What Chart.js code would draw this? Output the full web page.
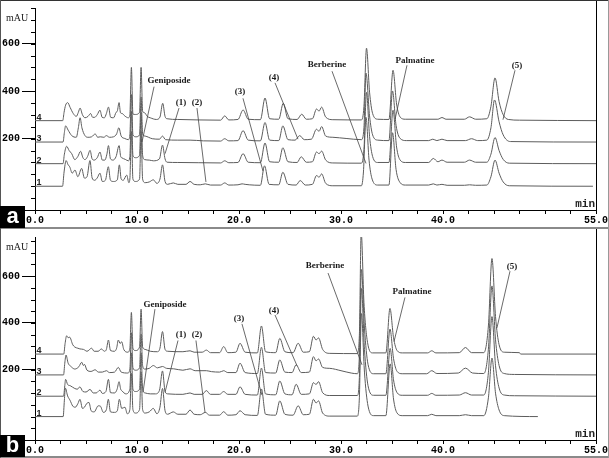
<!DOCTYPE html>
<html><head><meta charset="utf-8">
<script src="https://cdn.jsdelivr.net/npm/chart.js@4.4.0/dist/chart.umd.min.js"></script>
<style>
html,body{margin:0;padding:0;background:#fff;}
#wrap{position:relative;width:609px;height:458px;overflow:hidden;background:#fff;}
canvas{position:absolute;left:0;}
#ca{top:0;} #cb{top:229px;}
.badge{position:absolute;left:0;width:25px;height:22px;background:#000;color:#fff;font:bold 22px "Liberation Sans",Arial,sans-serif;line-height:19px;text-align:center;}
.hl{position:absolute;left:0;width:609px;background:#8a8a8a;}
.vl{position:absolute;top:0;height:458px;background:#555;}
</style></head>
<body><div id="wrap">
<canvas id="ca" width="609" height="228"></canvas>
<canvas id="cb" width="609" height="229"></canvas>
<div class="hl" style="top:0;height:1px;background:#333"></div>
<div class="hl" style="top:227px;height:2px"></div>
<div class="hl" style="top:456px;height:2px"></div>
<div class="vl" style="left:0;width:1px"></div>
<div class="vl" style="left:608px;width:1px;background:#999"></div>
<div class="badge" style="top:206px">a</div>
<div class="badge" style="top:435px">b</div>
</div>
<script>
// ---- axes ----
const yRangeA = [-100, 750];
const yRangeB = [-100, 767];
const yTickLabels = [-100, 200, 400, 600];
const yMinorTicks = [-100,-50,0,50,100,150,200,250,300,350,400,450,500,550,600,650,700,750];
const xTicks = [0,2.5,5,7.5,10,12.5,15,17.5,20,22.5,25,27.5,30,32.5,35,37.5,40,42.5,45,47.5,50,52.5,55];
const xTickLabels = [0, 10, 20, 30, 40, 55];
const traceNames = ['1','2','3','4'];
// baseline offsets of the stacked traces (mAU)
const offsetsA = [0, 95, 186, 276];
const offsetsB = [0, 87, 178, 267];

// ---- panel a traces: [time (min), signal above own baseline (mAU)] ----
const traceA1 = [[0,0],[2.7,0],[2.85,60],[3.05,108],[3.25,90],[3.4,82],[3.65,55],[3.92,68],[4.2,40],[4.57,75],[4.85,34],[5.1,40],[5.39,108],[5.6,35],[5.85,25],[6.1,35],[6.37,55],[6.6,20],[6.9,25],[7.19,82],[7.4,25],[7.7,20],[8.07,27],[8.27,90],[8.45,30],[8.65,25],[8.99,47],[9.2,15],[9.3,30],[9.45,230],[9.6,30],[9.85,20],[10.25,30],[10.4,230],[10.55,30],[10.8,15],[11.2,18],[11.6,27],[11.95,12],[12.25,30],[12.5,90],[12.75,20],[13.0,8],[13.56,14],[14.0,8],[14.8,8],[15.2,20],[15.6,8],[16.2,6],[16.7,10],[17.2,5],[18.2,5],[18.6,14],[19.0,5],[19.9,6],[20.3,10],[20.6,8],[21.0,6],[22.1,4],[22.5,86],[22.95,8],[23.9,6],[24.3,59],[24.8,8],[25.6,5],[26.0,24],[26.5,5],[27.2,8],[27.6,45],[27.85,38],[28.1,52],[28.5,12],[29.2,2],[32.0,2],[32.2,60],[32.45,290],[32.75,110],[33.05,30],[33.6,5],[34.7,5],[35.05,225],[35.4,70],[35.8,15],[36.3,5],[38.6,5],[39.05,10],[39.4,5],[39.9,8],[40.4,4],[42.1,4],[42.6,6],[43.2,4],[44.3,5],[44.7,40],[45.1,110],[45.5,55],[45.9,18],[46.5,2],[54.7,0]];
const traceA2 = [[0,0],[2.75,0],[2.88,40],[3.1,73],[3.35,55],[3.6,42],[3.9,17],[4.2,30],[4.47,52],[4.7,25],[4.9,17],[5.15,30],[5.4,56],[5.6,20],[5.8,15],[6.1,25],[6.37,49],[6.6,15],[6.85,15],[7.05,40],[7.2,76],[7.4,20],[7.65,15],[7.95,30],[8.24,76],[8.4,30],[8.5,25],[8.85,18],[9.15,12],[9.3,30],[9.45,220],[9.6,35],[9.85,25],[10.25,35],[10.4,215],[10.55,35],[10.75,17],[11.2,15],[11.6,12],[12.2,20],[12.5,78],[12.75,20],[12.95,6],[14,5],[16,4],[18.2,3],[18.6,12],[19,4],[19.9,5],[20.4,42],[20.9,6],[22.1,4],[22.55,87],[23,8],[23.9,6],[24.3,67],[24.8,8],[25.7,5],[26.1,29],[26.6,6],[27.2,8],[27.6,49],[27.85,42],[28.1,53],[28.5,15],[29.2,3],[32.0,2],[32.25,60],[32.5,300],[32.8,115],[33.1,30],[33.6,5],[34.7,5],[35.1,225],[35.45,70],[35.8,15],[36.3,5],[38.6,5],[39.05,22],[39.5,8],[39.9,15],[40.4,6],[42.1,6],[42.6,15],[43.2,6],[44.3,6],[44.7,40],[45.1,110],[45.5,55],[45.9,18],[46.5,2],[55,0]];
const traceA3 = [[0,0],[2.75,0],[2.88,40],[3.0,68],[3.25,50],[3.6,27],[4.05,20],[4.25,60],[4.42,102],[4.6,60],[4.9,27],[5.2,20],[5.55,22],[5.9,34],[6.15,20],[6.4,22],[6.75,20],[7.0,27],[7.3,20],[7.7,22],[8.0,34],[8.22,60],[8.45,25],[8.8,15],[9.15,10],[9.3,30],[9.45,200],[9.6,30],[9.9,22],[10.25,30],[10.4,190],[10.55,35],[10.8,25],[11.5,14],[12.2,12],[12.5,25],[12.8,10],[14,8],[15.2,8],[16.5,5],[18.2,4],[18.6,14],[19,5],[19.9,6],[20.4,48],[20.9,8],[22.1,5],[22.55,82],[23.0,8],[23.9,6],[24.3,68],[24.8,10],[25.5,8],[25.95,27],[26.4,10],[27.1,12],[27.6,54],[27.85,45],[28.1,65],[28.5,25],[29.2,20],[30.5,15],[32.0,10],[32.25,60],[32.45,290],[32.8,110],[33.1,30],[33.6,8],[34.7,6],[35.05,215],[35.4,70],[35.8,15],[36.4,6],[38.6,6],[39.0,12],[39.4,6],[39.9,12],[40.4,6],[42.2,6],[42.8,14],[43.4,6],[44.3,8],[44.7,60],[45.05,177],[45.5,85],[45.9,30],[46.6,2],[55,0]];
const traceA4 = [[0,0],[2.72,0],[2.85,35],[3.0,65],[3.2,76],[3.45,55],[3.75,30],[4.05,18],[4.25,35],[4.42,53],[4.65,25],[4.9,12],[5.2,18],[5.45,30],[5.65,14],[5.85,14],[6.1,25],[6.37,44],[6.58,14],[6.8,12],[7.0,30],[7.2,57],[7.42,14],[7.7,12],[7.95,35],[8.07,40],[8.24,76],[8.38,33],[8.55,30],[8.82,19],[9.15,12],[9.3,25],[9.45,224],[9.6,28],[9.85,26],[10.25,35],[10.4,224],[10.55,40],[10.75,33],[11.0,18],[11.3,12],[11.9,5],[12.25,15],[12.52,73],[12.75,18],[12.95,8],[14,5],[16,3],[18.2,2],[18.6,20],[19.0,3],[19.9,5],[20.4,45],[20.9,6],[22.1,4],[22.55,95],[23.0,8],[23.9,6],[24.34,73],[24.8,8],[25.7,5],[26.15,27],[26.6,6],[27.2,8],[27.6,49],[27.85,40],[28.1,57],[28.5,15],[29.2,4],[32.0,3],[32.25,60],[32.5,305],[32.8,120],[33.1,30],[33.6,6],[34.7,5],[35.1,212],[35.45,70],[35.8,15],[36.3,6],[39.5,6],[39.9,13],[40.3,6],[42.1,6],[42.6,16],[43.2,6],[44.3,8],[44.7,60],[45.1,180],[45.5,80],[45.9,25],[46.4,5],[47.5,2],[55,0]];

// ---- panel b traces ----
const traceB1 = [[0,0],[2.76,0],[2.88,70],[2.97,122],[3.2,88],[3.43,70],[3.7,45],[3.95,40],[4.2,55],[4.41,74],[4.65,35],[4.85,40],[5.07,56],[5.3,60],[5.5,25],[5.8,20],[6.2,46],[6.4,45],[6.7,18],[7.0,30],[7.19,74],[7.4,20],[7.8,18],[8.07,25],[8.27,74],[8.5,35],[8.82,40],[9.05,12],[9.3,30],[9.45,185],[9.6,30],[9.85,15],[10.25,30],[10.4,190],[10.55,30],[10.8,15],[11.2,20],[11.6,35],[11.95,12],[12.25,40],[12.5,120],[12.75,25],[13.0,10],[13.56,20],[14.0,10],[14.8,10],[15.2,28],[15.6,10],[16.2,8],[16.7,18],[17.1,6],[18.1,6],[18.5,21],[18.9,6],[19.7,8],[20.1,25],[20.6,8],[21.8,5],[22.2,118],[22.6,10],[23.6,6],[24.0,67],[24.5,10],[25.3,6],[25.8,46],[26.3,8],[26.9,10],[27.3,74],[27.55,58],[27.8,67],[28.2,15],[28.9,2],[31.6,2],[31.8,80],[32.0,440],[32.3,190],[32.65,45],[33.2,4],[34.4,4],[34.82,225],[35.15,75],[35.5,15],[36.0,4],[38.5,4],[38.9,10],[39.3,4],[41.6,4],[42.2,8],[42.8,4],[44.0,4],[44.45,80],[44.8,250],[45.15,100],[45.5,28],[46.0,4],[49.3,0]];
const traceB2 = [[0,0],[2.8,0],[2.92,45],[3.0,72],[3.2,50],[3.45,45],[3.9,33],[4.15,30],[4.4,40],[4.7,20],[5.0,18],[5.4,29],[5.7,14],[6.0,14],[6.37,26],[6.6,12],[6.95,20],[7.2,72],[7.4,15],[7.8,14],[8.05,30],[8.24,62],[8.4,30],[8.55,22],[8.9,10],[9.3,30],[9.45,185],[9.6,30],[9.85,20],[10.25,30],[10.4,185],[10.55,30],[10.8,14],[11.3,10],[11.8,10],[12.2,25],[12.5,108],[12.75,20],[13.0,10],[14.5,8],[15.2,14],[15.6,8],[16.4,8],[16.8,24],[17.2,8],[18.1,8],[18.5,20],[18.9,8],[19.7,8],[20.1,40],[20.6,8],[21.8,5],[22.2,120],[22.6,10],[23.6,6],[24.0,65],[24.5,10],[25.2,6],[25.6,51],[26.1,8],[26.9,10],[27.3,58],[27.55,50],[27.8,62],[28.2,15],[28.9,3],[31.6,3],[31.8,80],[32.0,460],[32.3,200],[32.65,45],[33.2,4],[34.4,4],[34.82,204],[35.15,70],[35.5,15],[36.0,4],[38.5,4],[38.9,12],[39.3,4],[41.6,5],[42.2,15],[42.8,5],[44.0,5],[44.45,100],[44.8,340],[45.15,130],[45.5,35],[46.0,5],[47,2],[55,0]];
const traceB3 = [[0,0],[2.8,0],[2.92,50],[3.04,85],[3.25,50],[3.5,37],[3.9,25],[4.3,35],[4.58,54],[4.75,40],[4.85,45],[5.1,20],[5.5,15],[5.9,22],[6.2,12],[6.6,12],[7.0,18],[7.3,10],[7.8,12],[8.17,32],[8.45,12],[9.1,8],[9.3,25],[9.45,180],[9.6,30],[9.85,20],[10.25,30],[10.4,175],[10.55,40],[10.75,25],[11.2,28],[11.6,40],[12.0,30],[12.5,36],[12.9,28],[13.6,26],[14.5,20],[15.2,26],[15.7,18],[16.8,18],[17.3,14],[18.1,12],[18.5,18],[18.9,10],[19.7,10],[20.1,50],[20.6,10],[21.8,6],[22.2,118],[22.6,10],[23.6,8],[24.0,64],[24.5,12],[25.2,10],[25.6,43],[26.1,10],[26.9,12],[27.3,78],[27.55,60],[27.8,68],[28.2,32],[28.9,28],[30,18],[31.0,8],[31.6,5],[31.8,80],[32.0,450],[32.3,200],[32.65,45],[33.2,5],[34.4,5],[34.8,196],[35.15,70],[35.5,15],[36.0,5],[38.4,5],[38.9,18],[39.4,6],[41.5,8],[42.2,29],[42.9,8],[44.0,6],[44.45,110],[44.8,380],[45.15,150],[45.5,40],[46.0,6],[47,2],[55,0]];
const traceB4 = [[0,0],[2.82,0],[2.95,45],[3.1,78],[3.25,70],[3.4,72],[3.7,40],[3.9,30],[4.2,25],[4.4,22],[4.75,20],[5.1,12],[5.55,25],[5.8,12],[6.2,12],[6.5,22],[6.8,12],[7.0,20],[7.2,60],[7.4,15],[7.8,12],[8.0,25],[8.17,60],[8.35,45],[8.5,53],[8.7,20],[9.1,8],[9.3,25],[9.45,178],[9.6,25],[9.85,15],[10.25,30],[10.4,192],[10.55,30],[10.8,20],[11.3,12],[12.0,10],[12.25,25],[12.5,96],[12.75,20],[13.0,12],[14.5,10],[15.2,14],[15.6,8],[16.4,8],[16.8,17],[17.2,6],[18.1,6],[18.5,32],[18.9,6],[19.7,8],[20.1,46],[20.6,8],[21.8,5],[22.2,120],[22.6,10],[23.6,6],[24.0,67],[24.5,10],[25.3,6],[25.8,46],[26.3,8],[26.9,10],[27.3,76],[27.55,60],[27.8,69],[28.2,20],[28.9,3],[31.6,2],[31.8,80],[31.98,520],[32.25,220],[32.6,50],[33.1,5],[34.4,5],[34.8,195],[35.15,70],[35.5,15],[36.0,5],[38.5,5],[38.9,14],[39.3,5],[41.6,6],[42.2,28],[42.8,6],[44.0,6],[44.45,120],[44.8,408],[45.15,160],[45.5,40],[46.0,8],[47.5,6],[47.6,0],[55,0]];

// ---- annotations: label centre [t, mAU], leader line from -> to ----
const labelsA = ['Geniposide','(1)','(2)','(3)','(4)','Berberine','Palmatine','(5)'];
const labelPosA = [[13.14,443],[14.31,350],[15.88,350],[20.1,399],[23.43,456],[28.63,513],[37.25,529],[47.25,509]];
const leaderFromA = [[11.67,419],[14.12,329],[15.88,329],[20.39,370],[23.53,435],[29.12,484],[36.47,509],[47.06,488]];
const leaderToA = [[10.49,186],[12.75,137],[16.76,18],[22.35,64],[25.78,198],[32.45,96],[35.29,280],[45.88,280]];
const labelsB = labelsA;
const labelPosB = [[12.75,479],[14.31,350],[15.88,350],[20.0,417],[23.43,454],[28.43,646],[36.96,534],[46.76,642]];
const leaderFromB = [[11.76,459],[14.02,325],[15.78,325],[20.29,396],[23.53,434],[28.73,613],[36.27,509],[46.57,621]];
const leaderToB = [[10.59,104],[12.75,104],[16.67,17],[22.25,92],[25.69,217],[32.06,221],[35.2,321],[45.29,379]];

const MONO = '"Liberation Mono", "Courier New", monospace';
const SERIF = '"Liberation Serif", "Times New Roman", serif';

function decoPlugin(offsets, labels, pos, from, to) {
  return {
    id: 'deco',
    afterDraw(chart) {
      const {ctx, chartArea: ca, scales: {x, y}} = chart;
      ctx.save();
      ctx.strokeStyle = '#000'; ctx.lineWidth = 1;
      // right frame of plot
      ctx.beginPath();
      ctx.moveTo(Math.round(ca.right) + 0.5, 0);
      ctx.lineTo(Math.round(ca.right) + 0.5, ca.bottom);
      // minor y ticks
      yMinorTicks.forEach(v => {
        const py = Math.round(y.getPixelForValue(v)) + 0.5;
        ctx.moveTo(ca.left - 4, py); ctx.lineTo(ca.left, py);
      });
      ctx.stroke();
      // unit labels
      ctx.fillStyle = '#222';
      ctx.font = '10px ' + SERIF; ctx.textAlign = 'left'; ctx.textBaseline = 'middle';
      ctx.fillText('mAU', 6, ca.top + 10);
      ctx.font = 'bold 11px ' + MONO; ctx.textAlign = 'right'; ctx.textBaseline = 'alphabetic';
      ctx.fillText('min', ca.right - 1, ca.bottom - 3);
      // trace numbers
      ctx.font = 'bold 9px "Liberation Sans", Arial, sans-serif'; ctx.textAlign = 'left';
      offsets.forEach((o, i) => {
        ctx.fillText(traceNames[i], x.getPixelForValue(0.15), y.getPixelForValue(o) - 1);
      });
      // leader lines
      ctx.strokeStyle = '#444'; ctx.lineWidth = 0.8;
      ctx.beginPath();
      from.forEach((f, i) => {
        ctx.moveTo(x.getPixelForValue(f[0]), y.getPixelForValue(f[1]));
        ctx.lineTo(x.getPixelForValue(to[i][0]), y.getPixelForValue(to[i][1]));
      });
      ctx.stroke();
      // labels
      ctx.fillStyle = '#1a1a1a';
      ctx.font = 'bold 9px ' + SERIF; ctx.textAlign = 'center'; ctx.textBaseline = 'middle';
      labels.forEach((t, i) => {
        ctx.fillText(t, x.getPixelForValue(pos[i][0]), y.getPixelForValue(pos[i][1]));
      });
      ctx.restore();
    }
  };
}

function makeChart(id, yr, offsets, traces, labels, pos, from, to) {
  return new Chart(document.getElementById(id), {
    type: 'line',
    data: {
      datasets: traces.map((tr, i) => ({
        label: traceNames[i],
        data: tr.map(p => ({x: p[0], y: p[1] + offsets[i]})),
        borderColor: '#5c5c5c', borderWidth: 1, pointRadius: 0, fill: false,
        cubicInterpolationMode: 'monotone'
      }))
    },
    options: {
      responsive: false, animation: false, devicePixelRatio: 1,
      layout: {padding: {left: 0, right: 13, top: 2, bottom: 0}},
      plugins: {legend: {display: false}, tooltip: {enabled: false}},
      scales: {
        x: {
          type: 'linear', min: 0, max: 55,
          afterBuildTicks: ax => { ax.ticks = xTicks.map(v => ({value: v})); },
          ticks: {autoSkip: false, maxRotation: 0, padding: 0, color: '#000',
            font: {family: MONO, size: 10, weight: 'bold'},
            callback: v => xTickLabels.includes(v) ? v.toFixed(1) : ''},
          grid: {drawOnChartArea: false, tickLength: 4, color: '#000'},
          border: {color: '#000'},
          afterFit: s => { s.height = 18; }
        },
        y: {
          min: yr[0], max: yr[1],
          afterBuildTicks: ax => { ax.ticks = yTickLabels.map(v => ({value: v})); },
          ticks: {autoSkip: false, padding: 2, color: '#000',
            font: {family: MONO, size: 10, weight: 'bold'},
            callback: v => String(v)},
          grid: {drawOnChartArea: false, tickLength: 13, color: '#000'},
          border: {color: '#000'},
          afterFit: s => { s.width = 35; }
        }
      }
    },
    plugins: [decoPlugin(offsets, labels, pos, from, to)]
  });
}

makeChart('ca', yRangeA, offsetsA, [traceA1, traceA2, traceA3, traceA4], labelsA, labelPosA, leaderFromA, leaderToA);
makeChart('cb', yRangeB, offsetsB, [traceB1, traceB2, traceB3, traceB4], labelsB, labelPosB, leaderFromB, leaderToB);
</script>
</body></html>
